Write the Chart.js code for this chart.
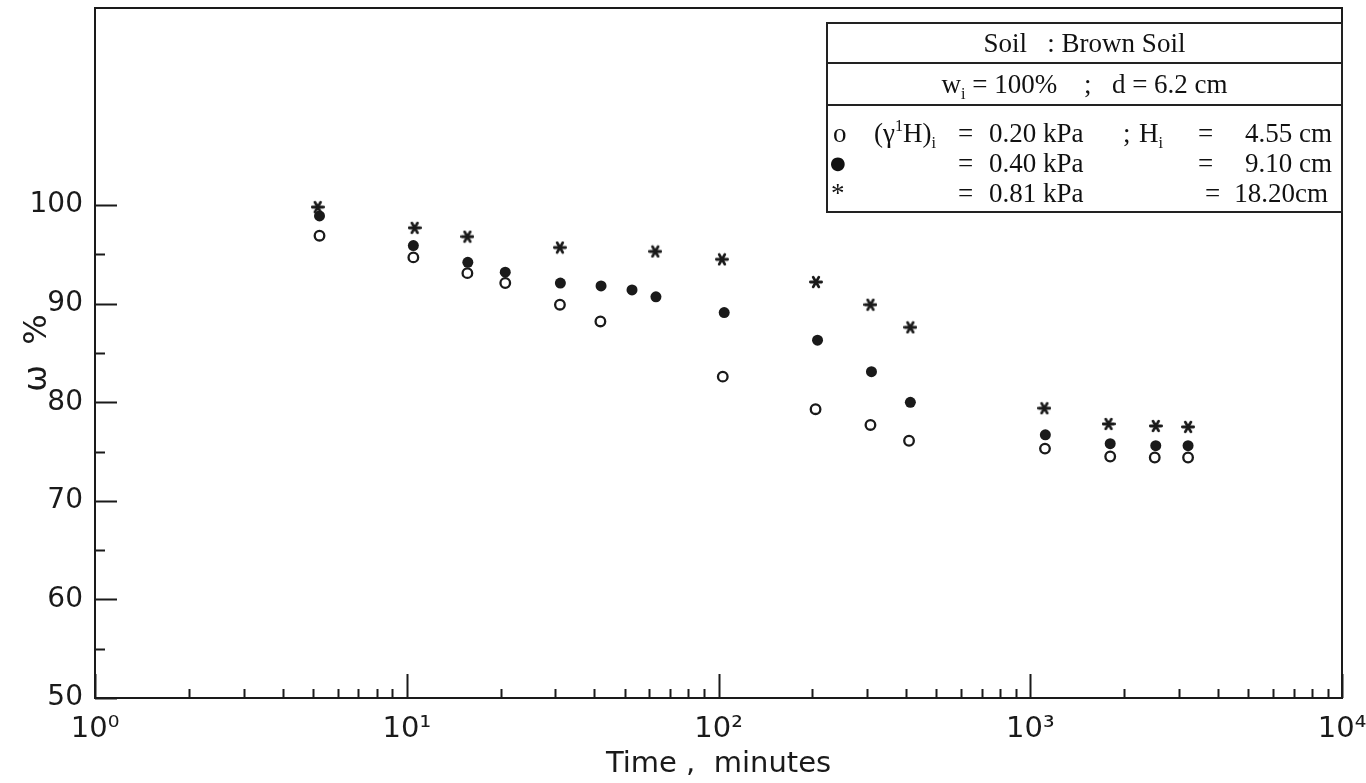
<!DOCTYPE html>
<html>
<head>
<meta charset="utf-8">
<title>Brown Soil - w% vs time</title>
<script src="https://cdn.jsdelivr.net/npm/chart.js@4.4.1/dist/chart.umd.min.js"></script>
<style>
  html, body { margin: 0; padding: 0; background: #fff; }
  #wrap { position: relative; width: 1366px; height: 783px; }
  #legendBox {
    position: absolute; left: 826px; top: 22px; width: 517px; height: 191px;
    box-sizing: border-box; border: 2px solid #222;
    font-family: "Liberation Serif", "Times New Roman", serif; font-size: 27px; color: #111;
  }
  #legendBox .row { box-sizing: border-box; border-bottom: 2px solid #222; text-align: center; white-space: pre; }
  #legendBox .r1 { height: 40px; line-height: 38px; }
  #legendBox .r2 { height: 42px; line-height: 40px; }
  #legendBox .ln { position: absolute; left: 0; right: 0; height: 30px; line-height: 30px; }
  #legendBox .ln span { position: absolute; white-space: pre; }
  sub { font-size: 0.6em; vertical-align: -0.35em; line-height: 0; }
  sup { font-size: 0.6em; vertical-align: 0.7em; line-height: 0; }
  .dot { font-family: "DejaVu Sans", sans-serif; font-size: 18px; }
</style>
</head>
<body>
<div id="wrap">
  <canvas id="soilChart" width="1366" height="783"></canvas>
  <div id="legendBox">
    <div class="row r1">Soil   : Brown Soil</div>
    <div class="row r2">w<sub>i</sub> = 100%    ;   d = 6.2 cm</div>
    <div class="ln" style="top:94px">
      <span style="left:5px">o</span>
      <span style="left:46px">(γ<sup>1</sup>H)<sub>i</sub></span>
      <span style="left:130px">=</span>
      <span style="left:161px">0.20 kPa</span>
      <span style="left:295px">;</span>
      <span style="left:311px">H<sub>i</sub></span>
      <span style="left:370px">=</span>
      <span style="right:9px">4.55 cm</span>
    </div>
    <div class="ln" style="top:124px">
      <span class="dot" style="left:2px">●</span>
      <span style="left:130px">=</span>
      <span style="left:161px">0.40 kPa</span>
      <span style="left:370px">=</span>
      <span style="right:9px">9.10 cm</span>
    </div>
    <div class="ln" style="top:154px">
      <span style="left:3px">*</span>
      <span style="left:130px">=</span>
      <span style="left:161px">0.81 kPa</span>
      <span style="left:377px">=</span>
      <span style="right:13px">18.20cm</span>
    </div>
  </div>
</div>
<script>
// time (minutes) and water content (%)
const timesLow = [5.25, 10.5, 15.65, 20.7, 31.0, 41.8, 103.2, 204.8, 307.2, 408.5, 1115, 1805, 2508, 3208];
const wLow = [96.9, 94.7, 93.1, 92.1, 89.9, 88.2, 82.6, 79.3, 77.7, 76.1, 75.3, 74.5, 74.4, 74.4];

const timesMid = [5.25, 10.5, 15.7, 20.7, 31.1, 42.0, 52.8, 63.0, 104.3, 207.8, 309.5, 412.5, 1118, 1805, 2527, 3208];
const wMid = [98.9, 95.9, 94.2, 93.2, 92.1, 91.8, 91.4, 90.7, 89.1, 86.3, 83.1, 80.0, 76.7, 75.8, 75.6, 75.6];

const timesHigh = [5.18, 10.6, 15.65, 31.0, 62.7, 102.6, 205.4, 307.2, 412.5, 1110, 1783, 2527, 3208];
const wHigh = [99.8, 97.7, 96.8, 95.7, 95.3, 94.5, 92.2, 89.9, 87.6, 79.4, 77.8, 77.6, 77.5];

const seriesLabels = ["0.20 kPa", "0.40 kPa", "0.81 kPa"];

// axis ticks
const xDecades = [1, 10, 100, 1000, 10000];
const xTickLabels = ["10⁰", "10¹", "10²", "10³", "10⁴"];
const yTickValues = [50, 55, 60, 65, 70, 75, 80, 85, 90, 95, 100];

const INK = '#1a1a1a';

// asterisk marker like the printed '*'
function makeAsterisk(size, lw) {
    const c = document.createElement('canvas');
    c.width = size; c.height = size;
    const g = c.getContext('2d');
    g.strokeStyle = INK;
    g.lineWidth = lw;
    g.lineCap = 'round';
    g.translate(size / 2, size / 2);
    const r = size / 2 - lw / 2;
    [0, 60, 120].forEach(a => {
        const t = a * Math.PI / 180;
        g.beginPath();
        g.moveTo(-r * Math.cos(t), -r * Math.sin(t));
        g.lineTo(r * Math.cos(t), r * Math.sin(t));
        g.stroke();
    });
    return c;
}

function toPoints(xs, ys) {
    return xs.map((x, i) => ({ x: x, y: ys[i] }));
}

// frame + inward tick marks
const framePlugin = {
    id: 'frame',
    afterDraw(chart) {
        const { ctx, chartArea: a, scales } = chart;
        ctx.save();
        ctx.strokeStyle = INK;
        ctx.lineWidth = 2;
        ctx.strokeRect(a.left, a.top, a.right - a.left, a.bottom - a.top);

        ctx.beginPath();
        // x ticks: decades long, 2..9 short
        for (let k = 0; k < xDecades.length; k++) {
            for (let m = 1; m <= 9; m++) {
                const v = xDecades[k] * m;
                if (v > xDecades[xDecades.length - 1]) break;
                const px = Math.round(scales.x.getPixelForValue(v)) + 0.5;
                const len = m === 1 ? 24 : 9;
                ctx.moveTo(px, a.bottom);
                ctx.lineTo(px, a.bottom - len);
            }
        }
        // y ticks
        yTickValues.forEach(v => {
            const py = Math.round(scales.y.getPixelForValue(v)) + 0.5;
            const len = v % 10 === 0 ? 22 : 10;
            ctx.moveTo(a.left, py);
            ctx.lineTo(a.left + len, py);
        });
        ctx.stroke();
        ctx.restore();
    }
};

const ctx = document.getElementById('soilChart').getContext('2d');
const soilChart = new Chart(ctx, {
    type: 'scatter',
    data: {
        datasets: [
            {
                label: seriesLabels[2], data: toPoints(timesHigh, wHigh),
                pointStyle: makeAsterisk(14, 2.8), pointRadius: 7
            },
            {
                label: seriesLabels[1], data: toPoints(timesMid, wMid),
                pointStyle: 'circle', pointRadius: 5.5, backgroundColor: INK, borderColor: INK, borderWidth: 0
            },
            {
                label: seriesLabels[0], data: toPoints(timesLow, wLow),
                pointStyle: 'circle', pointRadius: 4.8, backgroundColor: '#fff', borderColor: INK, borderWidth: 2.3
            }
        ]
    },
    options: {
        responsive: false,
        animation: false,
        devicePixelRatio: 1,
        layout: { padding: { top: 5, right: 24, left: 0, bottom: 0 } },
        plugins: {
            legend: { display: false },
            tooltip: { enabled: false }
        },
        scales: {
            x: {
                type: 'logarithmic',
                min: 1,
                max: 10000,
                grid: { display: false },
                border: { display: false },
                afterBuildTicks: s => { s.ticks = xDecades.map(v => ({ value: v })); },
                afterFit: s => { s.height = 85; s.paddingLeft = 0; s.paddingRight = 0; },
                ticks: {
                    autoSkip: false,
                    maxRotation: 0,
                    padding: 6,
                    color: INK,
                    font: { family: 'DejaVu Sans', size: 29 },
                    callback: v => {
                        const i = xDecades.indexOf(v);
                        return i >= 0 ? xTickLabels[i] : '';
                    }
                },
                title: {
                    display: true,
                    text: 'Time ,  minutes',
                    color: INK,
                    font: { family: 'DejaVu Sans', size: 29 },
                    padding: { top: 0, bottom: 1 }
                }
            },
            y: {
                min: 50,
                max: 120,
                grid: { display: false },
                border: { display: false },
                afterBuildTicks: s => { s.ticks = yTickValues.filter(v => v % 10 === 0).map(v => ({ value: v })); },
                afterFit: s => { s.width = 95; s.paddingTop = 0; s.paddingBottom = 0; },
                ticks: {
                    autoSkip: false,
                    padding: 4,
                    color: INK,
                    font: { family: 'DejaVu Sans', size: 28 }
                },
                title: {
                    display: true,
                    text: 'ω  %',
                    color: INK,
                    font: { family: 'DejaVu Sans', size: 32 },
                    padding: { top: 18, bottom: 0 }
                }
            }
        }
    },
    plugins: [framePlugin]
});
</script>
</body>
</html>
